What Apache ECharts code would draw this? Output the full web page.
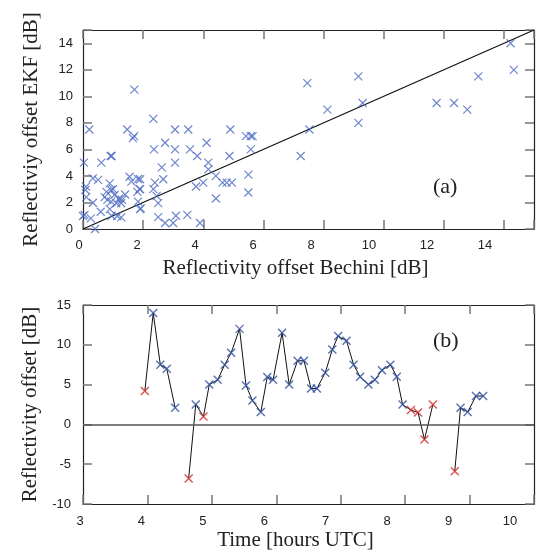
<!DOCTYPE html>
<html>
<head>
<meta charset="utf-8">
<script src="https://cdn.jsdelivr.net/npm/echarts@6/dist/echarts.min.js"></script>
<style>
html,body{margin:0;padding:0;background:#fff;}
#chart{width:544px;height:554px;}
</style>
</head>
<body>
<div id="chart"></div>
<script>
// ---- Panel (a): scatter of reflectivity offsets ----
const bechini = [7.46,8.13,7.53,7.24,9.16,9.30,9.16,11.76,12.34,12.78,13.15,14.22,14.33,
  1.71,2.34,0.21,1.47,1.66,1.70,3.06,3.50,4.90,
  2.36,2.73,3.06,3.56,4.11,5.58,
  3.06,3.80,4.17,4.87,5.42,5.58,5.64,
  0.03,0.61,0.92,0.95,
  4.17,2.62,4.42,5.50,4.64,4.78,4.95,4.00,3.76,2.67,2.39,5.50,4.42,2.34,2.45,2.50,1.90,1.90,1.90,
  2.50,2.73,3.00,3.09,3.47,3.89,
  0.33,0.50,0.89,1.55,1.83,1.61,1.88,1.81,0.08,0.11,0.78,0.94,0.72,1.05,0.94,0.81,0.33,1.11,1.27,0.59,0.89,0.00,0.26,1.14,1.27,0.40,1.92,0.10,0.05,1.20,1.40,1.00,1.30,0.95,1.83];
const ekf = [11.0,9.0,7.5,5.5,11.5,9.5,8.0,9.5,9.5,9.0,11.5,14.0,12.0,
  10.5,8.3,7.5,7.5,6.85,7.0,7.5,7.5,7.5,
  6.0,6.5,6.0,6.0,6.5,6.0,
  5.0,5.5,5.0,5.5,7.0,7.0,7.0,
  5.0,5.0,5.5,5.5,
  4.5,4.65,4.0,4.1,3.5,3.5,3.5,3.5,3.2,3.75,3.5,2.75,2.3,3.0,2.5,1.95,3.75,3.0,1.5,
  0.9,0.45,0.45,1.0,1.06,0.45,
  3.82,3.7,3.44,3.94,3.77,3.57,3.0,2.8,2.94,2.4,2.8,2.94,2.4,2.56,2.06,2.2,1.98,1.94,1.94,1.3,1.5,0.98,0.8,0.98,0.88,0.0,1.56,3.19,1.06,2.3,2.6,3.0,2.2,1.0,2.06];
const refLineX = [0, 15];
const xTicksA = [0,2,4,6,8,10,12,14];
const yTicksA = [0,2,4,6,8,10,12,14];

// ---- Panel (b): time series ----
const times = [3.96,4.09,4.20,4.30,4.43, 4.64,4.75,4.87,4.96,5.09, 5.20,5.30,5.43,5.53,5.63,
  5.76,5.86,5.95,6.09,6.20, 6.33,6.43,6.54,6.63,6.76, 6.87,6.96,7.09,7.20,7.30,
  7.43,7.53,7.64,7.77,7.87, 7.96,8.09,8.20,8.30,8.43, 8.77,8.86,8.97,9.10,9.21];
const offsets = [4.2,14.0,7.5,7.0,2.1, -6.8,2.5,1.0,5.0,5.6, 7.5,9.0,12.0,4.9,3.0,
  1.55,5.95,5.6,11.5,5.0, 8.0,8.0,4.5,4.5,6.5, 9.4,11.1,10.5,7.5,6.0,
  5.0,5.6,6.8,7.5,6.0, 2.5,1.8,1.5,-1.9,2.5, -5.9,2.1,1.55,3.56,3.56];
const rejected = [1,0,0,0,0, 1,0,1,0,0, 0,0,0,0,0, 0,0,0,0,0, 0,0,0,0,0, 0,0,0,0,0,
  0,0,0,0,0, 0,1,1,1,1, 1,0,0,0,0];
const segment = [0,0,0,0,0, 1,1,1,1,1, 1,1,1,1,1, 1,1,1,1,1, 1,1,1,1,1, 1,1,1,1,1,
  1,1,1,1,1, 1,1,1,1,1, 2,2,2,2,2];
const xTicksB = [3,4,5,6,7,8,9,10];
const yTicksB = [-10,-5,0,5,10,15];

// ---- build ----
const scatterA = bechini.map((x, i) => [x, ekf[i]]);
const lineB = [];
times.forEach((t, i) => {
  if (i > 0 && segment[i] !== segment[i - 1]) lineB.push([null, null]);
  lineB.push([t, offsets[i]]);
});
const blueB = [], redB = [];
times.forEach((t, i) => (rejected[i] ? redB : blueB).push([t, offsets[i]]));

const XSYM = 'path://M0,0L10,10M10,0L0,10';
const sansLbl = {fontFamily: 'Liberation Sans, Arial, sans-serif', fontSize: 13, color: '#222'};
const serifName = {fontFamily: 'Liberation Serif, Times New Roman, serif', fontSize: 21, color: '#222'};
const serifNameX = Object.assign({padding: [0, 26, 0, 0]}, serifName);
const axLine = {show: true, onZero: false, lineStyle: {color: '#222', width: 1.2}};
const noLine = {show: false, onZero: false};
const inTick = {show: true, inside: true, length: 9, lineStyle: {color: '#777', width: 1.5}};

const option = {
  animation: false,
  backgroundColor: '#fff',
  grid: [
    {left: 83, top: 30, width: 451, height: 199},
    {left: 79, top: 30, width: 406, height: 199},
    {left: 83, top: 305, width: 451, height: 199},
    {left: 80, top: 305, width: 430, height: 199}
  ],
  xAxis: [
    {gridIndex: 0, type: 'value', position: 'bottom', min: 0, max: 15, interval: 2,
     axisLine: axLine, axisTick: inTick, axisLabel: {show: false}, splitLine: {show: false},
     name: 'Reflectivity offset Bechini [dB]', nameLocation: 'middle', nameGap: 29, nameTextStyle: serifNameX},
    {gridIndex: 0, type: 'value', position: 'top', min: 0, max: 15, interval: 2,
     axisLine: axLine, axisTick: inTick, axisLabel: {show: false}, splitLine: {show: false}},
    {gridIndex: 1, type: 'value', position: 'bottom', min: xTicksA[0], max: xTicksA[xTicksA.length - 1], interval: 2,
     axisLine: noLine, axisTick: {show: false}, splitLine: {show: false},
     axisLabel: Object.assign({margin: 10}, sansLbl)},
    {gridIndex: 2, type: 'value', position: 'bottom', min: 3, max: 10, interval: 1,
     axisLine: axLine, axisTick: inTick, axisLabel: {show: false}, splitLine: {show: false},
     name: 'Time [hours UTC]', nameLocation: 'middle', nameGap: 26, nameTextStyle: serifNameX},
    {gridIndex: 2, type: 'value', position: 'top', min: 3, max: 10, interval: 1,
     axisLine: axLine, axisTick: inTick, axisLabel: {show: false}, splitLine: {show: false}},
    {gridIndex: 3, type: 'value', position: 'bottom', min: xTicksB[0], max: xTicksB[xTicksB.length - 1], interval: 1,
     axisLine: noLine, axisTick: {show: false}, splitLine: {show: false},
     axisLabel: Object.assign({margin: 11}, sansLbl)}
  ],
  yAxis: [
    {gridIndex: 0, type: 'value', position: 'left', min: 0, max: 15, interval: 2,
     axisLine: axLine, axisTick: inTick, splitLine: {show: false},
     axisLabel: Object.assign({margin: 10, formatter: v => yTicksA.includes(v) ? String(v) : ''}, sansLbl),
     name: 'Reflectiviy offset EKF [dB]', nameLocation: 'middle', nameGap: 41, nameTextStyle: serifName},
    {gridIndex: 0, type: 'value', position: 'right', min: 0, max: 15, interval: 2,
     axisLine: axLine, axisTick: inTick, axisLabel: {show: false}, splitLine: {show: false}},
    {gridIndex: 1, type: 'value', min: 0, max: 1, show: false, axisLine: noLine},
    {gridIndex: 2, type: 'value', position: 'left', min: yTicksB[0], max: yTicksB[yTicksB.length - 1], interval: 5,
     axisLine: axLine, axisTick: inTick, splitLine: {show: false},
     axisLabel: Object.assign({margin: 12}, sansLbl),
     name: 'Reflectivity offset [dB]', nameLocation: 'middle', nameGap: 41, nameTextStyle: serifName},
    {gridIndex: 2, type: 'value', position: 'right', min: -10, max: 15, interval: 5,
     axisLine: axLine, axisTick: inTick, axisLabel: {show: false}, splitLine: {show: false}},
    {gridIndex: 3, type: 'value', min: 0, max: 1, show: false, axisLine: noLine}
  ],
  graphic: [
    {type: 'text', left: 433, top: 176, style: {text: '(a)', font: '22px "Liberation Serif", serif', fill: '#222'}},
    {type: 'text', left: 433, top: 330, style: {text: '(b)', font: '22px "Liberation Serif", serif', fill: '#222'}}
  ],
  series: [
    {type: 'line', xAxisIndex: 0, yAxisIndex: 0, data: refLineX.map(v => [v, v]),
     symbol: 'none', lineStyle: {color: '#111', width: 1.2}, silent: true, z: 2},
    {type: 'scatter', xAxisIndex: 0, yAxisIndex: 0, data: scatterA,
     symbol: XSYM, symbolSize: 8,
     itemStyle: {color: '#4a68c0', borderColor: '#4a68c0', borderWidth: 1.2}, z: 3},
    {type: 'line', xAxisIndex: 3, yAxisIndex: 3, data: lineB, connectNulls: false,
     symbol: 'none', lineStyle: {color: '#111', width: 1}, z: 2,
     markLine: {silent: true, symbol: 'none', label: {show: false},
       lineStyle: {color: '#555', width: 1.5, type: 'solid'}, data: [{yAxis: 0}]}},
    {type: 'scatter', xAxisIndex: 3, yAxisIndex: 3, data: blueB,
     symbol: XSYM, symbolSize: 8,
     itemStyle: {color: '#2d4c9c', borderColor: '#2d4c9c', borderWidth: 1.4}, z: 3},
    {type: 'scatter', xAxisIndex: 3, yAxisIndex: 3, data: redB,
     symbol: XSYM, symbolSize: 8,
     itemStyle: {color: '#d02828', borderColor: '#d02828', borderWidth: 1.4}, z: 3}
  ]
};
const chart = echarts.init(document.getElementById('chart'), null, {renderer: 'canvas'});
chart.setOption(option);
</script>
</body>
</html>
